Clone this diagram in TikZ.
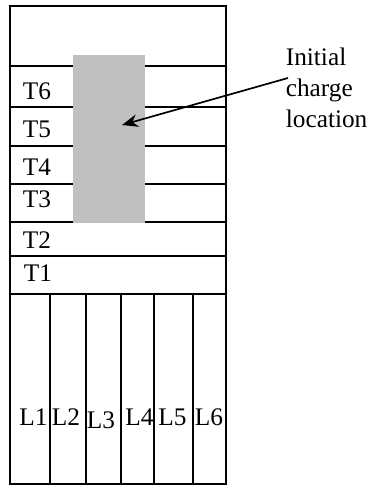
\documentclass[tikz,border=0pt]{standalone}
\usepackage{fontspec}
\setmainfont{Liberation Serif}
\usepackage{xcolor}
\usetikzlibrary{arrows.meta}
\definecolor{chargegray}{HTML}{C0C0C0}

\begin{document}
\begin{tikzpicture}[x=0.25mm,y=-0.25mm,line width=1.2pt,
    every node/.style={inner sep=0pt,font=\fontsize{18pt}{22pt}\selectfont},
    tlbl/.style={anchor=base west},
    llbl/.style={anchor=base}]
  \useasboundingbox (0,0) rectangle (372,486);
  % frame, layers and strips
  \draw (10,6) rectangle (226,484);
  \foreach \y in {66,107,146,184,222,256,294}
    \draw (10,\y) -- (226,\y);
  \foreach \x in {50,86,121,154,193}
    \draw (\x,294) -- (\x,484);
  % charge
  \fill[chargegray] (73,55) rectangle (145,223);
  \node[tlbl] (t6) at (22,100) {T6};
  \node[tlbl] (t5) at (22,138) {T5};
  \node[tlbl] (t4) at (22,175) {T4};
  \node[tlbl] (t3) at (22,207) {T3};
  \node[tlbl] (t2) at (22,248) {T2};
  \node[tlbl] (t1) at (23,281) {T1};
  \node[llbl] (l1) at (33.5,425) {L1};
  \node[llbl] (l2) at (66,425) {L2};
  \node[llbl] (l3) at (101,428) {L3};
  \node[llbl] (l4) at (139.5,425) {L4};
  \node[llbl] (l5) at (172.5,425) {L5};
  \node[llbl] (l6) at (209,425) {L6};
  \node[anchor=north west,align=left] (note) at (285,47) {Initial\\charge\\location};
  \coordinate (from) at (288,78);
  \coordinate (tip) at (122,125);
  \draw[-{Stealth[length=4mm,width=3.2mm]}] (from) -- (tip);
\end{tikzpicture}
\end{document}
